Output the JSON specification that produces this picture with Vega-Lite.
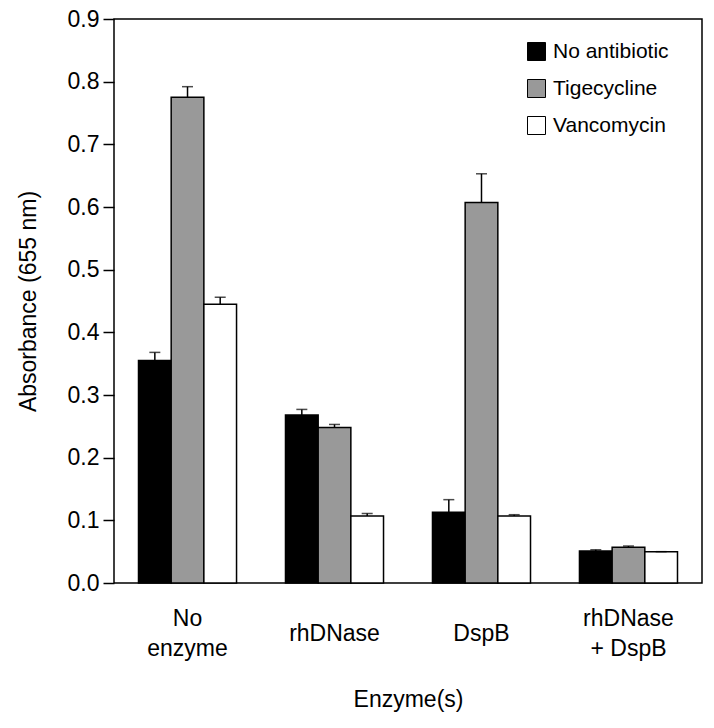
{
  "$schema": "https://vega.github.io/schema/vega-lite/v6.json",
  "autosize": "none",
  "padding": {"left": 114, "top": 19, "right": 12, "bottom": 145},
  "width": 588,
  "height": 564,
  "background": "white",
  "config": {
    "font": "Liberation Sans",
    "view": {"stroke": "black", "strokeWidth": 1.5},
    "axis": {"labelColor": "black", "titleColor": "black", "labelFont": "Liberation Sans", "titleFont": "Liberation Sans", "titleFontWeight": "normal", "grid": false},
    "legend": {"labelFont": "Liberation Sans", "labelColor": "black"}
  },
  "data": {
    "values": [
      {"enzyme": "No enzyme", "antibiotic": "No antibiotic", "value": 0.355, "upper": 0.368},
      {"enzyme": "No enzyme", "antibiotic": "Tigecycline", "value": 0.775, "upper": 0.792},
      {"enzyme": "No enzyme", "antibiotic": "Vancomycin", "value": 0.445, "upper": 0.456},
      {"enzyme": "rhDNase", "antibiotic": "No antibiotic", "value": 0.268, "upper": 0.277},
      {"enzyme": "rhDNase", "antibiotic": "Tigecycline", "value": 0.248, "upper": 0.253},
      {"enzyme": "rhDNase", "antibiotic": "Vancomycin", "value": 0.107, "upper": 0.111},
      {"enzyme": "DspB", "antibiotic": "No antibiotic", "value": 0.113, "upper": 0.133},
      {"enzyme": "DspB", "antibiotic": "Tigecycline", "value": 0.607, "upper": 0.653},
      {"enzyme": "DspB", "antibiotic": "Vancomycin", "value": 0.107, "upper": 0.109},
      {"enzyme": "rhDNase + DspB", "antibiotic": "No antibiotic", "value": 0.051, "upper": 0.053},
      {"enzyme": "rhDNase + DspB", "antibiotic": "Tigecycline", "value": 0.057, "upper": 0.059},
      {"enzyme": "rhDNase + DspB", "antibiotic": "Vancomycin", "value": 0.050, "upper": 0.050}
    ]
  },
  "encoding": {
    "x": {
      "field": "enzyme", "type": "nominal",
      "sort": ["No enzyme", "rhDNase", "DspB", "rhDNase + DspB"],
      "scale": {"paddingInner": 0.333, "paddingOuter": 0.1667},
      "axis": {
        "title": "Enzyme(s)", "titleFontSize": 23, "titlePadding": 28,
        "labelFontSize": 23, "labelAngle": 0, "ticks": false, "domain": false,
        "labelBaseline": "middle", "labelLineHeight": 30,
        "labelPadding": {"condition": {"test": "datum.value == 'rhDNase' || datum.value == 'DspB'", "value": 50}, "value": 35},
        "labelExpr": "datum.label == 'No enzyme' ? ['No', 'enzyme'] : datum.label == 'rhDNase + DspB' ? ['rhDNase', '+ DspB'] : datum.label"
      }
    },
    "xOffset": {
      "field": "antibiotic", "type": "nominal",
      "sort": ["No antibiotic", "Tigecycline", "Vancomycin"],
      "scale": {"paddingInner": 0, "paddingOuter": 0}
    }
  },
  "layer": [
    {
      "mark": {"type": "bar", "stroke": "black", "strokeWidth": 1.5},
      "encoding": {
        "y": {
          "field": "value", "type": "quantitative",
          "scale": {"domain": [0, 0.9], "nice": false},
          "axis": {
            "title": "Absorbance (655 nm)", "titleFontSize": 23, "titlePadding": 27,
            "values": [0, 0.1, 0.2, 0.3, 0.4, 0.5, 0.6, 0.7, 0.8, 0.9],
            "format": ".1f", "labelFontSize": 23, "labelPadding": 4,
            "tickSize": 11, "tickWidth": 1.5, "tickColor": "black",
            "domain": false
          }
        },
        "fill": {
          "field": "antibiotic", "type": "nominal",
          "sort": ["No antibiotic", "Tigecycline", "Vancomycin"],
          "scale": {"domain": ["No antibiotic", "Tigecycline", "Vancomycin"], "range": ["#000000", "#999999", "#ffffff"]},
          "legend": {
            "title": null, "orient": "none", "legendX": 412, "legendY": 22,
            "symbolType": "square", "symbolSize": 324, "symbolStrokeColor": "black", "symbolStrokeWidth": 1,
            "labelFontSize": 21, "labelOffset": 6, "rowPadding": 14, "labelLimit": 300
          }
        }
      }
    },
    {
      "mark": {"type": "rule", "color": "black", "strokeWidth": 1.5},
      "encoding": {
        "y": {"field": "value", "type": "quantitative"},
        "y2": {"field": "upper"}
      }
    },
    {
      "mark": {"type": "tick", "color": "black", "size": 11, "thickness": 1.5},
      "encoding": {
        "y": {"field": "upper", "type": "quantitative"}
      }
    }
  ]
}
